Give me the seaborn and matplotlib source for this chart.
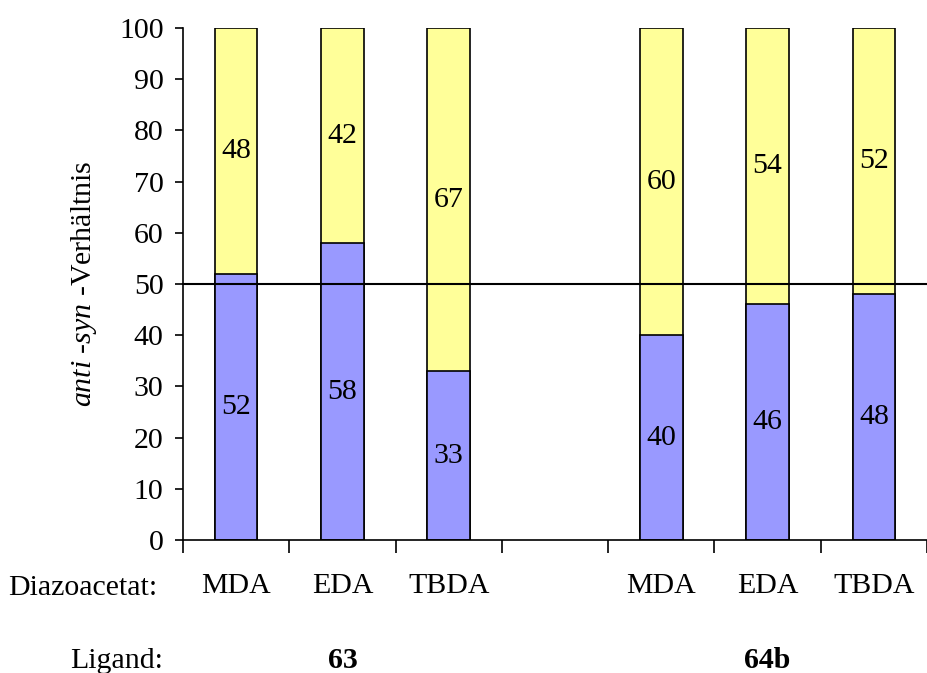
import matplotlib
matplotlib.use("Agg")
import matplotlib.pyplot as plt
import matplotlib.transforms as mtransforms
import seaborn as sns
import pandas as pd

# data
slots = ["63-MDA", "63-EDA", "63-TBDA", "gap", "64b-MDA", "64b-EDA", "64b-TBDA"]
diazo_labels = ["MDA", "EDA", "TBDA", "", "MDA", "EDA", "TBDA"]
anti_values = [52, 58, 33, None, 40, 46, 48]
syn_values = [48, 42, 67, None, 60, 54, 52]
ligands = ["63", "64b"]
ligand_slots = [1, 5]

sns.set_theme(style="white")
plt.rcParams["font.family"] = ["Liberation Serif", "DejaVu Serif"]
plt.rcParams["mathtext.fontset"] = "custom"
plt.rcParams["mathtext.it"] = "Liberation Serif:italic"
plt.rcParams["mathtext.rm"] = "Liberation Serif"
plt.rcParams["text.color"] = "black"
plt.rcParams["axes.labelcolor"] = "black"
plt.rcParams["xtick.color"] = "black"
plt.rcParams["ytick.color"] = "black"

df = pd.DataFrame({"slot": slots, "anti": anti_values, "syn": syn_values}).dropna()
df["total"] = df["anti"] + df["syn"]

fig = plt.figure(figsize=(9.27, 6.73), dpi=100)
ax = fig.add_axes([0.1974, 0.1976, 0.8026, 0.7608])

fs = 21.5
sns.barplot(data=df, x="slot", y="total", order=slots, color="#FFFF99",
            saturation=1, width=0.4, edgecolor="black", linewidth=1.2, ax=ax)
sns.barplot(data=df, x="slot", y="anti", order=slots, color="#9999FF",
            saturation=1, width=0.4, edgecolor="black", linewidth=1.2, ax=ax)

# labels in the middle of each segment
top_c, bot_c = ax.containers[0], ax.containers[1]
ax.bar_label(bot_c, labels=[f"{v:.0f}" for v in df["anti"]], label_type="center",
             fontsize=fs, color="black")
for bar, v, a in zip(top_c, df["syn"], df["anti"]):
    ax.text(bar.get_x() + bar.get_width() / 2, a + v / 2, f"{v:.0f}",
            ha="center", va="center", fontsize=fs, color="black")

ax.axhline(50, color="black", lw=1.5, zorder=5, clip_on=False)

ax.set_xlim(-0.5, 6.5)
ax.set_ylim(0, 100)
ax.set_yticks(range(0, 101, 10))
ax.tick_params(axis="y", which="major", direction="out", length=6, width=1.2,
               labelsize=fs, pad=8, left=True)
ax.set_xticks([i - 0.5 for i in range(8)])
ax.set_xticklabels([])
ax.tick_params(axis="x", which="major", direction="out", length=9, width=1.2, bottom=True)
ax.set_xticks(range(7), diazo_labels, minor=True)
ax.tick_params(axis="x", which="minor", length=0, labelsize=fs, pad=24)

for side in ["top", "right"]:
    ax.spines[side].set_visible(False)
for side in ["left", "bottom"]:
    ax.spines[side].set_color("black")
    ax.spines[side].set_linewidth(1.2)

ax.set_xlabel("")
ax.set_ylabel(r"$anti$ -$syn$ -Verhältnis", fontsize=fs, labelpad=14)

fig.text(8 / 927, 1 - 595 / 673, "Diazoacetat:", fontsize=fs, ha="left", va="baseline")
fig.text(163 / 927, 1 - 668 / 673, "Ligand:", fontsize=fs, ha="right", va="baseline")
trans = mtransforms.blended_transform_factory(ax.transData, fig.transFigure)
for name, pos in zip(ligands, ligand_slots):
    ax.text(pos, 1 - 668 / 673, name, transform=trans, fontsize=fs,
            fontweight="bold", ha="center", va="baseline")

fig.savefig("out.png", dpi=100)
